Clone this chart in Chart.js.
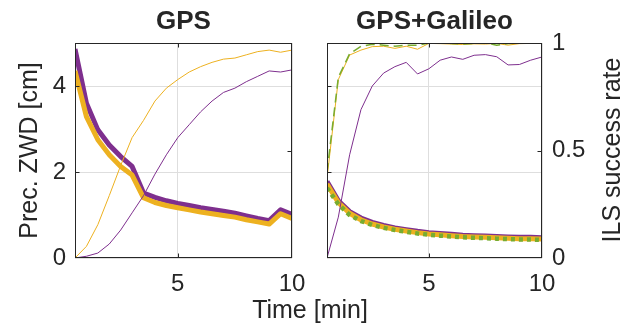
<!DOCTYPE html>
<html><head><meta charset="utf-8">
<script src="https://cdn.jsdelivr.net/npm/chart.js@4/dist/chart.umd.min.js"></script>
<style>
html,body{margin:0;padding:0;background:#fff;}
#wrap{position:relative;width:630px;height:330px;}
canvas{position:absolute;left:0;top:0;}
</style></head><body>
<div id="wrap"><canvas id="c1" width="630" height="330"></canvas><canvas id="c2" width="630" height="330"></canvas></div>
<script>
// time axis [min]
const times = [0.5,1,1.5,2,2.5,3,3.5,4,4.5,5,5.5,6,6.5,7,7.5,8,8.5,9,9.5,10];
const xTicks = [5,10];
const zwdTicks = [0,2,4];
const ilsTicks = [0,0.5,1];

// GPS panel: precision ZWD [cm] (left axis)
const gpsZwdPurple = [4.86,3.60,2.98,2.63,2.36,2.13,1.51,1.41,1.33,1.27,1.22,1.17,1.13,1.09,1.04,0.98,0.92,0.87,1.12,1.01];
const gpsZwdOrange = [4.35,3.29,2.75,2.40,2.13,1.93,1.40,1.29,1.22,1.17,1.12,1.07,1.03,0.99,0.95,0.89,0.84,0.79,1.03,0.92];
// GPS panel: ILS success rate (right axis)
const gpsIlsPurple = [0,0.008,0.023,0.065,0.13,0.21,0.29,0.39,0.48,0.56,0.62,0.68,0.73,0.77,0.79,0.82,0.845,0.87,0.865,0.875];
const gpsIlsOrange = [0,0.054,0.155,0.29,0.43,0.56,0.64,0.73,0.79,0.83,0.865,0.89,0.91,0.925,0.93,0.945,0.96,0.967,0.957,0.967];

// GPS+Galileo panel: precision ZWD [cm]
const galZwdPurple = [1.78,1.33,1.08,0.93,0.83,0.76,0.70,0.66,0.62,0.59,0.57,0.55,0.53,0.52,0.51,0.50,0.49,0.48,0.48,0.47];
const galZwdOrange = [1.72,1.29,1.04,0.89,0.79,0.72,0.67,0.63,0.59,0.56,0.54,0.52,0.50,0.49,0.48,0.47,0.46,0.45,0.45,0.44];
const galZwdGreen  = [1.63,1.25,1.00,0.86,0.77,0.70,0.65,0.61,0.57,0.54,0.52,0.50,0.48,0.47,0.46,0.45,0.44,0.43,0.43,0.42];
// GPS+Galileo panel: ILS success rate
const galIlsPurple = [0,0.19,0.48,0.69,0.80,0.86,0.89,0.91,0.856,0.88,0.92,0.935,0.924,0.943,0.946,0.936,0.898,0.90,0.92,0.935];
const galIlsOrange = [0.37,0.83,0.944,0.967,0.983,0.985,0.975,0.985,0.971,0.998,0.997,0.995,0.993,0.996,0.995,0.998,0.99,0.997,0.998,1.0];
const galIlsGreen  = [0.40,0.84,0.95,0.985,0.994,0.99,0.985,0.99,0.99,1.0,1.0,0.998,0.995,0.998,1.0,0.99,0.998,1.0,1.0,1.0];

const PURPLE='#7E2F8E', ORANGE='#EDB120', GREEN='#77AC30', INK='#262626', GRID='#dedede';
const FONT = "'Liberation Sans', Arial, Helvetica, sans-serif";
Chart.defaults.font.family = FONT;
Chart.defaults.color = INK;

function pts(vals){ return times.map((t,i)=>({x:t,y:vals[i]})); }
function line(vals, color, width, axis, dash){
  return {data:pts(vals), borderColor:color, backgroundColor:color, borderWidth:width, yAxisID:axis,
          pointRadius:0, tension:0, fill:false, borderDash:dash||[], borderJoinStyle:'round',
          borderCapStyle:'butt'};
}

const framePlugin = {
  id:'frame',
  afterDraw(chart, args, opts){
    const {ctx, chartArea:a, scales} = chart;
    const L=Math.round(a.left)+0.5, R=Math.round(a.right)-0.5, T=Math.round(a.top)+0.5, B=Math.round(a.bottom)-0.5;
    ctx.save();
    ctx.strokeStyle=INK; ctx.lineWidth=1;
    ctx.strokeRect(L,T,R-L,B-T);
    const tl=4;
    ctx.beginPath();
    xTicks.forEach(v=>{ const px=Math.round(scales.x.getPixelForValue(v))+0.5; if(px<R-1){ctx.moveTo(px,B);ctx.lineTo(px,B-tl);ctx.moveTo(px,T);ctx.lineTo(px,T+tl);} });
    zwdTicks.forEach(v=>{ const py=Math.round(scales.y.getPixelForValue(v))+0.5; if(py<B-1&&py>T+1){ctx.moveTo(L,py);ctx.lineTo(L+tl,py);} });
    ilsTicks.forEach(v=>{ const py=Math.round(scales.y2.getPixelForValue(v))+0.5; if(py<B-1&&py>T+1){ctx.moveTo(R,py);ctx.lineTo(R-tl,py);} });
    ctx.stroke();
    ctx.fillStyle=INK;
    (opts.texts||[]).forEach(t=>{
      ctx.save();
      ctx.font=t.font; ctx.textAlign='center'; ctx.textBaseline='middle';
      const x = t.x==='center' ? (a.left+a.right)/2 : t.x;
      ctx.translate(x, t.y); if(t.rot) ctx.rotate(t.rot);
      ctx.fillText(t.text,0,0);
      ctx.restore();
    });
    ctx.restore();
  }
};

function scalesFor(showLeft, showRight){
  return {
    x:{type:'linear', min:0.5, max:10,
       afterBuildTicks:s=>{s.ticks=xTicks.map(v=>({value:v}));},
       grid:{color:GRID, drawTicks:false}, border:{display:false},
       ticks:{font:{size:24}, padding:12, maxRotation:0, autoSkip:false, color:INK, callback:v=>String(v)},
       afterFit:s=>{s.height=72;}},
    y:{type:'linear', position:'left', min:0, max:5,
       afterBuildTicks:s=>{s.ticks=zwdTicks.map(v=>({value:v}));},
       grid:{color:GRID, drawTicks:false}, border:{display:false},
       ticks:{display:showLeft, font:{size:24}, padding:9, color:INK, callback:v=>String(v)},
       title:{display:showLeft, text:'Prec. ZWD [cm]', font:{size:25}, padding:{top:15,bottom:0}, color:INK},
       afterFit:s=>{s.width=showLeft?75:0;}},
    y2:{type:'linear', position:'right', min:0, max:1,
       afterBuildTicks:s=>{s.ticks=ilsTicks.map(v=>({value:v}));},
       grid:{display:false, drawTicks:false}, border:{display:false},
       ticks:{display:showRight, font:{size:24}, padding:10, color:INK, callback:v=>String(v)},
       afterFit:s=>{s.width=showRight?88:0;}}
  };
}

const common = {responsive:false, animation:false, devicePixelRatio:1, events:[],
  plugins:{legend:{display:false}, tooltip:{enabled:false}}};

new Chart(document.getElementById('c1'), {
  type:'line',
  data:{datasets:[
    line(gpsIlsOrange, ORANGE, 1, 'y2'),
    line(gpsIlsPurple, PURPLE, 1, 'y2'),
    line(gpsZwdOrange, ORANGE, 5, 'y'),
    line(gpsZwdPurple, PURPLE, 5, 'y')
  ]},
  options:Object.assign({}, common, {
    layout:{autoPadding:false, padding:{left:0, top:43, right:338, bottom:0}},
    scales:scalesFor(true,false),
    plugins:Object.assign({}, common.plugins, {frame:{texts:[
      {text:'GPS', x:'center', y:22, font:"bold 26px "+FONT}
    ]}})
  }),
  plugins:[framePlugin]
});

new Chart(document.getElementById('c2'), {
  type:'line',
  data:{datasets:[
    line(galIlsGreen, GREEN, 1.5, 'y2', [9,5]),
    line(galIlsOrange, ORANGE, 1, 'y2'),
    line(galIlsPurple, PURPLE, 1, 'y2'),
    line(galZwdGreen, GREEN, 4.5, 'y', [4,4]),
    line(galZwdOrange, ORANGE, 5, 'y'),
    line(galZwdPurple, PURPLE, 5, 'y')
  ]},
  options:Object.assign({}, common, {
    layout:{autoPadding:false, padding:{left:327, top:43, right:0, bottom:0}},
    scales:scalesFor(false,true),
    plugins:Object.assign({}, common.plugins, {frame:{texts:[
      {text:'GPS+Galileo', x:'center', y:22, font:"bold 26px "+FONT},
      {text:'ILS success rate', x:613, y:150, rot:-Math.PI/2, font:"25px "+FONT},
      {text:'Time [min]', x:310, y:311, font:"25px "+FONT}
    ]}})
  }),
  plugins:[framePlugin]
});
</script>
</body></html>
